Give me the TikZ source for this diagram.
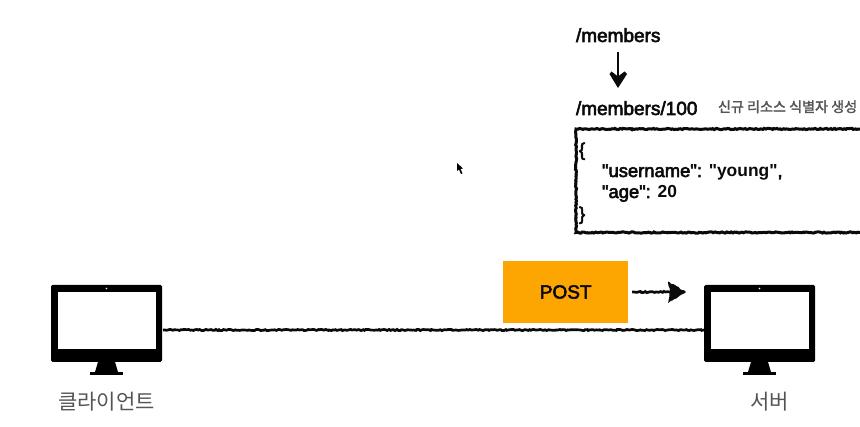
\documentclass[tikz,border=0pt]{standalone}
\usepackage{fontspec}
\setmainfont{Liberation Sans}
\newfontfamily\krfont[FakeBold=2]{Noto Sans CJK KR}
\newfontfamily\krlight{Noto Sans CJK KR}
\usetikzlibrary{arrows.meta,decorations.pathmorphing}
\pgfmathsetseed{7}
\definecolor{postorange}{HTML}{FDA500}
\definecolor{labelgrey}{HTML}{555555}
\definecolor{inkblack}{HTML}{0A0A0A}
\newcommand{\medfont}{\fontspec{Liberation Sans}[FakeBold=3]}
\newfontfamily\boldfont{Liberation Sans Bold}
\newcommand{\jsonvalue}[1]{{\boldfont\fontsize{17.4}{21}\selectfont #1}}
\tikzset{
  x=1pt,y=-1pt,
  txt/.style={inner sep=0pt,outer sep=0pt,anchor=base west,text=inkblack,font=\medfont\fontsize{19}{22}\selectfont},
  jsontxt/.style={txt,font=\medfont\fontsize{18.4}{21}\selectfont},
  kor/.style={inner sep=0pt,outer sep=0pt,anchor=base,text=labelgrey,font=\krlight\fontsize{21}{24}\selectfont},
  note/.style={inner sep=0pt,outer sep=0pt,anchor=base west,text=labelgrey,font=\krfont\fontsize{14.1}{16}\selectfont},
  rough/.style={draw=inkblack,line width=2.7pt,decorate,decoration={random steps,segment length=1.6pt,amplitude=0.6pt}},
  monitor/.style={draw=none,fill=black,rounded corners=1.5pt,minimum width=111pt,minimum height=77pt,inner sep=0pt,outer sep=0pt},
  postbox/.style={fill=postorange,draw=none,minimum width=125pt,minimum height=62pt,inner sep=0pt,outer sep=0pt,text=inkblack,font=\medfont\fontsize{19}{22}\selectfont},
}
\newcommand{\screenstand}[1]{%
  \fill[white] (#1.west)++(6.5,-31) coordinate (tl) rectangle ++(98,56.5);
  \fill[white] (#1.north)++(0,3.5) circle (0.9);
  \fill[black] (#1.south)++(-8.5,0) -- ++(17,0) -- ++(3,10) -- ++(-23,0) -- cycle;
  \fill[black] (#1.south)++(-16.5,10) rectangle ++(33,3);
}
\begin{document}
\begin{tikzpicture}
\useasboundingbox[fill=white] (0,0) rectangle (860,427);
% monitors
\node[monitor] (client) at (106.5,323.5) {};
\node[monitor] (server) at (759.5,323.5) {};
\screenstand{client}
\screenstand{server}
\node[kor] (clientlabel) at (106.5,410) {클라이언트};
\node[kor] (serverlabel) at (769.5,410) {서버};
% connection
\draw[rough] (client.east |- 0,330) ++(1,0) coordinate (linea) -- (server.west |- 0,330);
% post
\node[postbox] (post) at (565.7,292) {POST};
\coordinate (postend) at (671,292);
\draw[rough] ([xshift=4]post.east) -- (postend);
\fill[inkblack,decorate,decoration={random steps,segment length=2pt,amplitude=0.5pt}] (668,281.5) -- (686,292) -- (668,303) -- (670,292) -- cycle;
% uri
\node[txt] (members) at (576,42) {/members};
\node[txt] (members100) at (576,115) {/members/100};
\node[note] (newid) at (718,112) {신규 리소스 식별자 생성};
\coordinate (downtip) at (618,88);
\coordinate (downstart) at (618,52);
\draw[draw=inkblack,line width=2.4pt] (downstart) -- (618,80);
\fill[inkblack] (downtip) -- (609.5,74) -- (611.5,71.5) -- (618,76.5) -- (624.5,71.5) -- (627,74) -- cycle;
% body
\draw[rough,line width=3pt] (860,129) -- (576,129) -- (576,232.5) -- (860,232.5);
\node[jsontxt] (b1) at (579,156) {\{};
\node[jsontxt] (b2) at (602,177) {"username": \jsonvalue{"young"},};
\node[jsontxt] (b3) at (602,198) {"age": \jsonvalue{20}};
\node[jsontxt] (b4) at (579,220) {\}};
% cursor
\fill[black] (457,163) -- (457,171) -- (459,169.5) -- (461,174) -- (462.5,173.5) -- (460.5,169) -- (463,168.5) -- cycle;
\end{tikzpicture}
\end{document}
